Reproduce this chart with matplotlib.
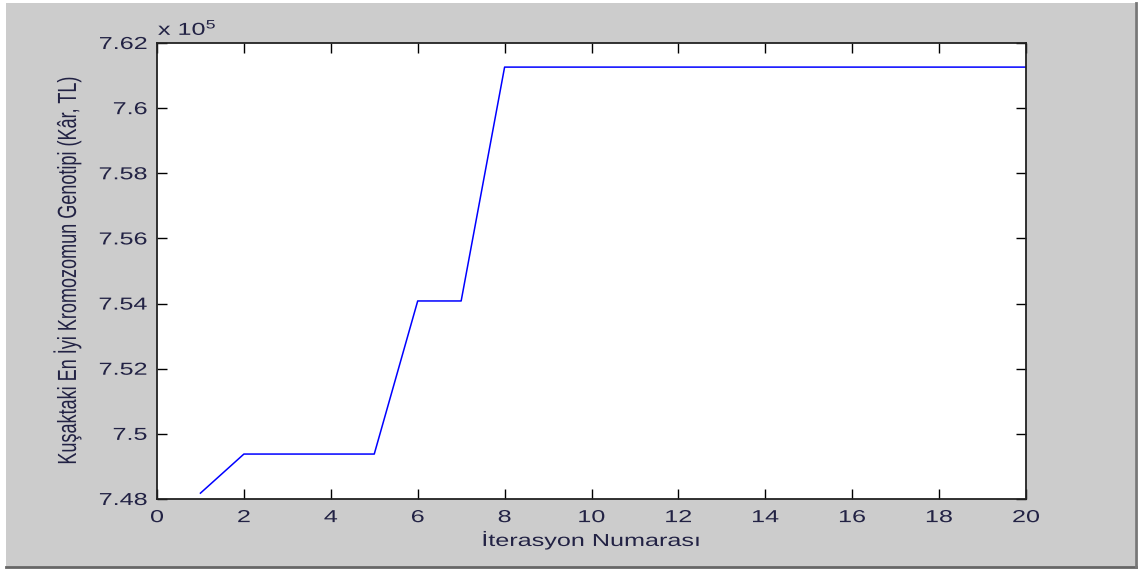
import matplotlib
matplotlib.use("Agg")
import matplotlib.pyplot as plt
from matplotlib.patches import Rectangle
from matplotlib.patheffects import AbstractPathEffect
from matplotlib.transforms import Affine2D
from matplotlib.lines import Line2D

iterations = list(range(1, 21))
best_fitness = [748180, 749380, 749380, 749380, 749380, 754080, 754080,
                761260, 761260, 761260, 761260, 761260, 761260, 761260,
                761260, 761260, 761260, 761260, 761260, 761260]
x_ticks = [0, 2, 4, 6, 8, 10, 12, 14, 16, 18, 20]
y_ticks = [7.48, 7.50, 7.52, 7.54, 7.56, 7.58, 7.60, 7.62]
y_tick_labels = ["7.48", "7.5", "7.52", "7.54", "7.56", "7.58", "7.6", "7.62"]

plt.rcParams['font.family'] = ['Liberation Sans', 'DejaVu Sans']
plt.rcParams['mathtext.fontset'] = 'custom'
plt.rcParams['mathtext.rm'] = 'Liberation Sans'
plt.rcParams['mathtext.it'] = 'Liberation Sans'


class HStretch(AbstractPathEffect):
    """Draw text stretched horizontally (the source image is widened)."""
    def __init__(self, sx, anchor='center'):
        super().__init__()
        self.sx = sx
        self.anchor = anchor

    def draw_path(self, renderer, gc, tpath, affine, rgbFace=None):
        ext = tpath.get_extents(affine)
        if self.anchor == 'left':
            x0 = ext.x0
        elif self.anchor == 'right':
            x0 = ext.x1
        else:
            x0 = 0.5 * (ext.x0 + ext.x1)
        t = affine + Affine2D().translate(-x0, 0).scale(self.sx, 1).translate(x0, 0)
        renderer.draw_path(gc, tpath, t, rgbFace)


SX = 1.45
W, H = 1146, 572
fig = plt.figure(figsize=(W / 100, H / 100), dpi=100, facecolor='white')
# gray window background with shadow lines at right and bottom
fig.patches.append(Rectangle((6 / W, 1 - 567 / H), (1135 - 6) / W, (567 - 3) / H,
                             transform=fig.transFigure, facecolor='#cccccc',
                             edgecolor='none', zorder=-10))
fig.lines.append(Line2D([6 / W, 1136 / W], [1 - 567 / H, 1 - 567 / H],
                        transform=fig.transFigure, color='#666666', lw=2, zorder=-5))
fig.lines.append(Line2D([1135.5 / W, 1135.5 / W], [1 - 567 / H, 1 - 3 / H],
                        transform=fig.transFigure, color='#777777', lw=2, zorder=-5))

ax = fig.add_axes([157 / W, 1 - 499 / H, (1026 - 157) / W, (499 - 43) / H])
ax.set_zorder(5)
ax.set_facecolor('white')
ax.plot(iterations, [v / 1e5 for v in best_fitness], color='#0000ff', linewidth=1.1)
ax.set_xlim(0, 20)
ax.set_ylim(7.48, 7.62)
ax.set_xticks(x_ticks)
ax.set_xticklabels([str(t) for t in x_ticks])
ax.set_yticks(y_ticks)
ax.set_yticklabels(y_tick_labels)
ax.tick_params(direction='in', length=7, width=1, top=True, right=True,
               labelsize=12.5, colors='black')
ax.tick_params(axis='y', pad=7)
ax.tick_params(axis='x', pad=8)
for s in ax.spines.values():
    s.set_linewidth(1.3)
    s.set_color('#222222')

for lbl in ax.get_xticklabels():
    lbl.set_color('#222244')
    lbl.set_path_effects([HStretch(SX, 'center')])
for lbl in ax.get_yticklabels():
    lbl.set_color('#222244')
    lbl.set_path_effects([HStretch(SX, 'right')])

ax.text(158 / W, 1 - 35 / H, r'x 10$^{5}$', transform=fig.transFigure,
        fontsize=12.5, ha='left', va='baseline', color='#222244',
        path_effects=[HStretch(SX, 'left')])

ax.set_xlabel('İterasyon Numarası', fontsize=12.5, color='#222244',
              path_effects=[HStretch(SX, 'center')])
ax.xaxis.set_label_coords(0.5, -0.0724)
ax.set_ylabel('Kuşaktaki En İyi Kromozomun Genotipi (Kâr, TL)', fontsize=13,
              color='#222244', path_effects=[HStretch(SX, 'center')])
ax.yaxis.set_label_coords((77.3 - 157) / 869, 0.5)

fig.savefig('out.png', dpi=100, facecolor='white')
